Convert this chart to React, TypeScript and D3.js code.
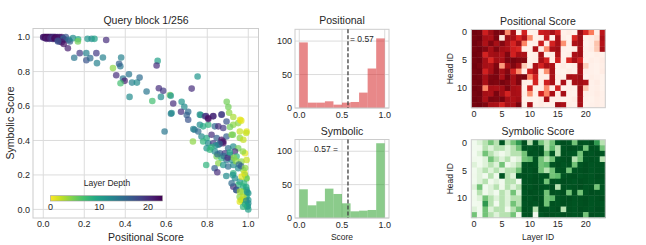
import { useEffect, useRef } from 'react';
import * as d3 from 'd3';

// scatter: one point per attention head (positional score, symbolic score, layer)
const scatterPos = [
  0.00, 0.005, 0.01, 0.01, 0.015, 0.02, 0.02, 0.025, 0.03, 0.03, 0.035, 0.04, 0.04, 0.045, 0.05, 0.05, 0.055, 0.06, 0.06, 0.065,
  0.07, 0.075, 0.08, 0.085, 0.09, 0.095, 0.10, 0.105, 0.11, 0.00, 0.01, 0.015, 0.025, 0.035, 0.045, 0.055, 0.065, 0.07, 0.08, 0.09,
  0.10, 0.12, 0.125, 0.13, 0.072, 0.145, 0.17, 0.169, 0.216, 0.236, 0.25, 0.307,
  0.151, 0.178, 0.21, 0.21, 0.229, 0.259, 0.262, 0.291, 0.34, 0.356, 0.376, 0.37, 0.38, 0.389, 0.397, 0.377, 0.418, 0.433, 0.457, 0.47,
  0.421, 0.558, 0.553, 0.504, 0.564, 0.585, 0.532, 0.574, 0.618, 0.622, 0.634, 0.623, 0.675, 0.688, 0.672, 0.707, 0.70, 0.724, 0.753, 0.768,
  0.794, 0.829, 0.87, 0.895, 0.903, 0.907, 0.927, 0.592, 0.73, 0.738, 0.707, 0.732,
  0.764, 0.789, 0.805, 0.829, 0.87, 0.894, 0.927, 0.951, 0.764, 0.78, 0.805, 0.837, 0.854, 0.878, 0.911, 0.959, 0.992, 0.756, 0.772, 0.797,
  0.821, 0.846, 0.87, 0.894, 0.919, 0.959, 0.976, 0.78, 0.805, 0.829, 0.854, 0.878, 0.902, 0.927, 0.951, 0.797, 0.813, 0.837, 0.862, 0.886,
  0.911, 0.935, 0.984, 0.846, 0.87, 0.894, 0.919, 0.943, 0.967, 0.992, 0.854, 0.878, 0.902, 0.927, 0.951, 0.976, 0.984, 0.992, 0.927, 0.935,
  0.959, 0.951, 0.976, 0.992, 1.0, 0.992, 1.0, 1.0, 0.995, 1.0, 0.972, 0.976, 0.959, 0.943, 0.927,
  0.795, 0.836, 0.849, 0.893, 0.925, 0.941, 0.958, 0.966, 0.99, 0.974, 0.99, 0.966, 0.925, 0.982, 0.96, 0.919, 0.976, 0.96,
  0.626, 0.805, 0.878, 0.87, 0.86, 0.84, 0.82, 0.85, 0.88, 0.90, 0.91, 0.93, 0.94, 0.955, 0.965, 0.968, 0.985, 0.98, 0.99, 0.995,
  0.99, 0.998, 0.985, 0.975,
];
const scatterSym = [
  1.0, 1.0, 1.0, 0.995, 1.0, 1.0, 0.995, 1.0, 1.0, 0.99, 1.0, 1.0, 0.995, 1.0, 1.0, 0.99, 1.0, 0.995, 1.0, 0.99,
  1.0, 0.985, 1.0, 0.99, 1.0, 0.995, 0.99, 0.985, 1.0, 0.998, 0.998, 0.99, 0.995, 0.993, 0.99, 0.993, 0.998, 0.98, 0.975, 0.97,
  0.96, 0.935, 0.985, 0.975, 0.975, 0.994, 0.988, 0.975, 0.99, 0.99, 0.99, 0.983,
  0.88, 0.907, 0.907, 0.866, 0.878, 0.907, 0.849, 0.882, 0.82, 0.779, 0.831, 0.845, 0.882, 0.759, 0.746, 0.732, 0.784, 0.736, 0.736, 0.765,
  0.653, 0.862, 0.835, 0.684, 0.703, 0.688, 0.629, 0.653, 0.664, 0.66, 0.615, 0.555, 0.625, 0.596, 0.567, 0.567, 0.548, 0.701, 0.771, 0.548,
  0.542, 0.542, 0.551, 0.625, 0.594, 0.561, 0.536, 0.452, 0.394, 0.462, 0.52, 0.466,
  0.55, 0.54, 0.53, 0.54, 0.55, 0.51, 0.491, 0.501, 0.491, 0.482, 0.491, 0.482, 0.482, 0.472, 0.478, 0.452, 0.452, 0.452, 0.423, 0.414,
  0.433, 0.414, 0.404, 0.423, 0.433, 0.414, 0.404, 0.394, 0.384, 0.384, 0.375, 0.384, 0.355, 0.365, 0.355, 0.355, 0.346, 0.336, 0.326, 0.326,
  0.317, 0.336, 0.326, 0.307, 0.297, 0.287, 0.287, 0.307, 0.278, 0.287, 0.268, 0.258, 0.249, 0.258, 0.239, 0.229, 0.20, 0.181, 0.21, 0.181,
  0.161, 0.142, 0.132, 0.113, 0.093, 0.074, 0.054, 0.035, 0.016, 0.0, 0.103, 0.054, 0.045, 0.113, 0.132,
  0.258, 0.239, 0.216, 0.194, 0.20, 0.112, 0.073, 0.054, 0.18, 0.336, 0.443, 0.515, 0.433, 0.21, 0.52, 0.151, 0.073, 0.103,
  0.559, 0.524, 0.394, 0.39, 0.38, 0.37, 0.36, 0.32, 0.31, 0.30, 0.33, 0.30, 0.28, 0.26, 0.25, 0.19, 0.24, 0.15, 0.13, 0.10,
  0.05, 0.02, 0.03, 0.015,
];
const scatterLayer = [
  22, 23, 21, 20, 22, 23, 19, 21, 22, 20, 23, 18, 21, 22, 20, 23, 19, 21, 22, 17,
  20, 18, 21, 16, 22, 19, 15, 20, 17, 20, 23, 21, 22, 20, 19, 23, 22, 19, 20, 21,
  22, 21, 14, 16, 17, 12, 9, 5, 11, 12, 10, 20,
  14, 19, 13, 17, 15, 19, 13, 13, 4, 20, 14, 16, 13, 14, 21, 7, 14, 13, 12, 15,
  12, 10, 20, 14, 20, 19, 7, 12, 5, 11, 20, 14, 11, 12, 20, 15, 16, 20, 11, 8,
  20, 21, 18, 5, 5, 4, 3, 14, 4, 14, 17, 13,
  12, 19, 22, 20, 19, 17, 4, 4, 12, 9, 8, 15, 20, 19, 5, 2, 1, 15, 12, 9,
  20, 16, 22, 16, 4, 4, 2, 8, 12, 19, 12, 22, 15, 12, 5, 11, 8, 12, 16, 19,
  15, 20, 1, 5, 8, 15, 12, 8, 4, 2, 4, 11, 15, 12, 12, 4, 8, 5, 8, 12,
  11, 8, 9, 12, 11, 9, 11, 12, 9, 10, 5, 2, 1, 15, 20,
  8, 16, 20, 12, 11, 17, 4, 2, 5, 4, 2, 1, 5, 1, 1, 15, 2, 3,
  12, 22, 22, 21, 16, 12, 8, 15, 15, 20, 9, 4, 4, 15, 16, 1, 4, 8, 9, 11,
  12, 11, 10, 8,
];
const layerTicks = [0, 10, 20];
const maxLayer = 23;

// histograms (10 bins over [0, 1])
const binEdges = [0, 0.1, 0.2, 0.3, 0.4, 0.5, 0.6, 0.7, 0.8, 0.9, 1.0];
const positionalCounts = [98, 8, 8, 10, 5, 8, 9, 23, 59, 104];
const symbolicCounts = [43, 19, 25, 44, 36, 22, 10, 11, 12, 112];
const meanScore = 0.57;
const histYTicks = [0, 50, 100];
const histXTicks = [0, 0.5, 1.0];

// heatmaps: rows = head 0..13, columns = layer 0..23
const positionalGrid = [
  [0.98, 0.97, 0.74, 0.88, 0.96, 0.95, 0.40, 0.87, 0.04, 0.73, 0.02, 0.03, 0.75, 0.78, 0.86, 0.72, 0.03, 0.05, 0.02, 0.90, 0.70, 0.45, 0.04, 0.80],
  [0.97, 0.98, 0.86, 0.85, 0.96, 0.08, 0.88, 0.86, 0.70, 0.84, 0.40, 0.03, 0.05, 0.78, 0.03, 0.86, 0.04, 0.02, 0.70, 0.88, 0.03, 0.05, 0.10, 0.85],
  [0.98, 0.96, 0.84, 0.95, 0.86, 0.94, 0.85, 0.72, 0.88, 0.42, 0.03, 0.04, 0.75, 0.05, 0.72, 0.86, 0.38, 0.03, 0.84, 0.88, 0.02, 0.04, 0.22, 0.82],
  [0.97, 0.98, 0.94, 0.86, 0.95, 0.87, 0.85, 0.74, 0.70, 0.04, 0.03, 0.84, 0.05, 0.40, 0.85, 0.88, 0.03, 0.02, 0.04, 0.87, 0.03, 0.05, 0.20, 0.86],
  [0.98, 0.97, 0.72, 0.86, 0.88, 0.84, 0.95, 0.73, 0.86, 0.85, 0.03, 0.04, 0.86, 0.03, 0.05, 0.84, 0.02, 0.04, 0.85, 0.88, 0.03, 0.02, 0.04, 0.03],
  [0.97, 0.98, 0.86, 0.70, 0.87, 0.85, 0.96, 0.97, 0.95, 0.94, 0.03, 0.05, 0.85, 0.72, 0.04, 0.74, 0.03, 0.70, 0.86, 0.73, 0.02, 0.04, 0.03, 0.05],
  [0.98, 0.96, 0.86, 0.85, 0.95, 0.35, 0.86, 0.95, 0.87, 0.20, 0.04, 0.85, 0.72, 0.86, 0.84, 0.03, 0.05, 0.02, 0.04, 0.87, 0.18, 0.03, 0.02, 0.04],
  [0.97, 0.98, 0.73, 0.86, 0.96, 0.87, 0.94, 0.72, 0.40, 0.03, 0.74, 0.85, 0.04, 0.38, 0.86, 0.03, 0.02, 0.05, 0.03, 0.86, 0.04, 0.03, 0.02, 0.05],
  [0.98, 0.97, 0.86, 0.95, 0.96, 0.85, 0.97, 0.86, 0.95, 0.96, 0.42, 0.73, 0.04, 0.03, 0.85, 0.05, 0.03, 0.86, 0.84, 0.88, 0.02, 0.04, 0.03, 0.02],
  [0.97, 0.98, 0.85, 0.96, 0.95, 0.97, 0.94, 0.86, 0.95, 0.04, 0.03, 0.72, 0.05, 0.74, 0.86, 0.03, 0.85, 0.04, 0.86, 0.87, 0.84, 0.03, 0.05, 0.02],
  [0.98, 0.97, 0.42, 0.86, 0.85, 0.87, 0.96, 0.86, 0.84, 0.03, 0.72, 0.04, 0.05, 0.40, 0.03, 0.73, 0.02, 0.04, 0.03, 0.88, 0.20, 0.03, 0.04, 0.02],
  [0.97, 0.98, 0.86, 0.85, 0.96, 0.87, 0.72, 0.86, 0.85, 0.05, 0.38, 0.03, 0.73, 0.42, 0.85, 0.04, 0.86, 0.03, 0.02, 0.87, 0.04, 0.03, 0.05, 0.03],
  [0.98, 0.97, 0.85, 0.96, 0.95, 0.97, 0.86, 0.84, 0.87, 0.03, 0.04, 0.02, 0.05, 0.86, 0.03, 0.04, 0.02, 0.03, 0.05, 0.86, 0.03, 0.02, 0.04, 0.03],
  [0.97, 0.98, 0.95, 0.86, 0.85, 0.72, 0.86, 0.85, 0.96, 0.04, 0.86, 0.03, 0.05, 0.02, 0.03, 0.88, 0.85, 0.04, 0.03, 0.86, 0.02, 0.03, 0.04, 0.03],
];
const symbolicGrid = [
  [0.04, 0.15, 0.30, 0.50, 0.30, 0.95, 0.30, 0.50, 0.70, 0.96, 0.30, 0.95, 0.50, 0.30, 0.50, 0.94, 0.97, 0.95, 0.50, 0.96, 0.95, 0.97, 0.70, 0.30],
  [0.04, 0.05, 0.30, 0.15, 0.30, 0.30, 0.15, 0.30, 0.50, 0.95, 0.94, 0.96, 0.95, 0.30, 0.55, 0.30, 0.95, 0.97, 0.96, 0.95, 0.50, 0.96, 0.95, 0.50],
  [0.03, 0.15, 0.50, 0.30, 0.15, 0.05, 0.15, 0.30, 0.30, 0.50, 0.96, 0.95, 0.97, 0.50, 0.95, 0.30, 0.96, 0.95, 0.94, 0.50, 0.96, 0.95, 0.97, 0.95],
  [0.05, 0.04, 0.15, 0.50, 0.30, 0.15, 0.30, 0.05, 0.15, 0.50, 0.55, 0.95, 0.50, 0.30, 0.50, 0.95, 0.96, 0.97, 0.30, 0.50, 0.95, 0.96, 0.95, 0.30],
  [0.15, 0.04, 0.15, 0.30, 0.15, 0.50, 0.05, 0.15, 0.30, 0.95, 0.96, 0.95, 0.50, 0.55, 0.95, 0.97, 0.95, 0.96, 0.50, 0.95, 0.97, 0.95, 0.96, 0.95],
  [0.04, 0.15, 0.30, 0.15, 0.30, 0.15, 0.30, 0.30, 0.50, 0.96, 0.95, 0.97, 0.50, 0.30, 0.50, 0.95, 0.96, 0.50, 0.95, 0.96, 0.97, 0.95, 0.96, 0.95],
  [0.05, 0.15, 0.04, 0.30, 0.05, 0.95, 0.30, 0.15, 0.95, 0.96, 0.95, 0.97, 0.95, 0.96, 0.50, 0.55, 0.95, 0.96, 0.97, 0.95, 0.96, 0.95, 0.97, 0.96],
  [0.04, 0.15, 0.30, 0.05, 0.15, 0.04, 0.30, 0.30, 0.05, 0.95, 0.96, 0.97, 0.95, 0.50, 0.96, 0.95, 0.97, 0.96, 0.95, 0.97, 0.96, 0.95, 0.96, 0.95],
  [0.15, 0.50, 0.04, 0.15, 0.30, 0.05, 0.30, 0.15, 0.30, 0.96, 0.95, 0.97, 0.96, 0.95, 0.97, 0.30, 0.96, 0.95, 0.96, 0.97, 0.95, 0.96, 0.50, 0.95],
  [0.04, 0.30, 0.05, 0.15, 0.04, 0.30, 0.15, 0.50, 0.15, 0.95, 0.97, 0.96, 0.95, 0.50, 0.96, 0.95, 0.97, 0.50, 0.96, 0.50, 0.95, 0.97, 0.96, 0.95],
  [0.05, 0.15, 0.50, 0.30, 0.15, 0.30, 0.15, 0.30, 0.30, 0.96, 0.95, 0.97, 0.96, 0.50, 0.55, 0.95, 0.96, 0.97, 0.95, 0.96, 0.97, 0.95, 0.96, 0.97],
  [0.04, 0.05, 0.70, 0.30, 0.04, 0.30, 0.15, 0.50, 0.30, 0.95, 0.96, 0.95, 0.97, 0.50, 0.96, 0.95, 0.97, 0.96, 0.95, 0.96, 0.97, 0.95, 0.96, 0.95],
  [0.15, 0.04, 0.50, 0.15, 0.30, 0.30, 0.05, 0.30, 0.50, 0.96, 0.95, 0.30, 0.97, 0.96, 0.95, 0.97, 0.30, 0.96, 0.95, 0.97, 0.96, 0.95, 0.97, 0.96],
  [0.50, 0.04, 0.50, 0.30, 0.15, 0.30, 0.30, 0.50, 0.05, 0.95, 0.96, 0.05, 0.95, 0.97, 0.96, 0.95, 0.97, 0.96, 0.95, 0.96, 0.50, 0.97, 0.96, 0.95],
];
const headTicks = [0, 5, 10];
const layerIdTicks = [0, 5, 10, 15, 20];

const FONT = '"Liberation Sans", Arial, sans-serif';
const TEXT = '#262626';
const GRID = '#dcdcdc';
const EDGE = '#cccccc';

export default function App() {
  const ref = useRef<SVGSVGElement>(null);

  useEffect(() => {
    if (!ref.current) return;
    document.body.style.margin = '0';
    const svg = d3.select(ref.current);
    svg.selectAll('*').remove();
    svg.style('font-family', FONT);

    const label = (g: any, x: number, y: number, s: string, size: number, anchor = 'middle') =>
      g.append('text').attr('x', x).attr('y', y).attr('text-anchor', anchor)
        .attr('font-size', size).attr('fill', TEXT).text(s);

    // ---------- scatter ----------
    const sx = d3.scaleLinear().domain([-0.05, 1.05]).range([33, 258.5]);
    const sy = d3.scaleLinear().domain([-0.05, 1.05]).range([218, 28.5]);
    const sTicks = [0, 0.2, 0.4, 0.6, 0.8, 1.0];
    const sc = svg.append('g');
    sc.selectAll('.gx').data(sTicks).join('line')
      .attr('x1', d => sx(d)).attr('x2', d => sx(d)).attr('y1', 28.5).attr('y2', 218)
      .attr('stroke', GRID).attr('stroke-width', 1);
    sc.selectAll('.gy').data(sTicks).join('line')
      .attr('y1', d => sy(d)).attr('y2', d => sy(d)).attr('x1', 33).attr('x2', 258.5)
      .attr('stroke', GRID).attr('stroke-width', 1);
    sc.append('rect').attr('x', 33).attr('y', 28.5).attr('width', 225.5).attr('height', 189.5)
      .attr('fill', 'none').attr('stroke', EDGE);
    const layerColor = (l: number) => d3.interpolateViridis(1 - l / maxLayer);
    sc.append('g').selectAll('circle').data(scatterPos.map((p, i) => i)).join('circle')
      .attr('cx', i => sx(scatterPos[i])).attr('cy', i => sy(scatterSym[i])).attr('r', 3.3)
      .attr('fill', i => layerColor(scatterLayer[i])).attr('fill-opacity', 0.7);
    sTicks.forEach(t => {
      label(sc, sx(t), 227, t.toFixed(1), 9);
      label(sc, 30, sy(t) + 3.2, t.toFixed(1), 9, 'end');
    });
    label(sc, 146, 24, 'Query block 1/256', 10.5);
    label(sc, 146, 241, 'Positional Score', 10.5);
    sc.append('text').attr('transform', 'translate(13.5,123) rotate(-90)').attr('text-anchor', 'middle')
      .attr('font-size', 10.5).attr('fill', TEXT).text('Symbolic Score');

    // colorbar
    const cx = d3.scaleLinear().domain([0, maxLayer]).range([50.5, 162.5]);
    const grad = svg.append('defs').append('linearGradient').attr('id', 'vir');
    d3.range(0, 1.001, 0.1).forEach(t => {
      grad.append('stop').attr('offset', `${t * 100}%`).attr('stop-color', d3.interpolateViridis(1 - t));
    });
    sc.append('rect').attr('x', cx(0)).attr('y', 195.7).attr('width', cx(maxLayer) - cx(0)).attr('height', 5.3)
      .attr('fill', 'url(#vir)').attr('stroke', '#9a9a9a').attr('stroke-width', 0.6);
    label(sc, 107, 186, 'Layer Depth', 8.5);
    layerTicks.forEach(t => label(sc, cx(t), 210, String(t), 9));

    // ---------- histograms ----------
    const drawHist = (top: number, bottom: number, counts: number[], color: string, title: string,
      meanText: string, textRight: boolean, textY: number, xLabel: boolean) => {
      const g = svg.append('g');
      const hx = d3.scaleLinear().domain([-0.05, 1.05]).range([295, 389]);
      const hy = d3.scaleLinear().domain([0, 117.6]).range([bottom, top]);
      g.selectAll('.vx').data(histXTicks).join('line')
        .attr('x1', d => hx(d)).attr('x2', d => hx(d)).attr('y1', top).attr('y2', bottom)
        .attr('stroke', GRID);
      g.selectAll('.hy').data(histYTicks).join('line')
        .attr('y1', d => hy(d)).attr('y2', d => hy(d)).attr('x1', 295).attr('x2', 389)
        .attr('stroke', GRID);
      g.selectAll('.bar').data(counts).join('rect')
        .attr('x', (d, i) => hx(binEdges[i])).attr('width', (d, i) => hx(binEdges[i + 1]) - hx(binEdges[i]))
        .attr('y', d => hy(d)).attr('height', d => bottom - hy(d))
        .attr('fill', color).attr('fill-opacity', 0.55);
      g.append('rect').attr('x', 295).attr('y', top).attr('width', 94).attr('height', bottom - top)
        .attr('fill', 'none').attr('stroke', EDGE);
      g.append('line').attr('x1', hx(meanScore)).attr('x2', hx(meanScore)).attr('y1', top).attr('y2', bottom)
        .attr('stroke', '#404040').attr('stroke-width', 1.3).attr('stroke-dasharray', '4,2');
      if (textRight) label(g, hx(meanScore) + 2, textY, meanText, 8.5, 'start');
      else label(g, hx(meanScore) - 10, textY, meanText, 8.5, 'end');
      histYTicks.forEach(t => label(g, 292, hy(t) + 3.2, String(t), 9, 'end'));
      histXTicks.forEach(t => label(g, hx(t), bottom + 9.5, t.toFixed(1), 9));
      label(g, 342, top - 5, title, 10.5);
      if (xLabel) label(g, 342, 240, 'Score', 8.5);
    };
    drawHist(29.3, 108, positionalCounts, '#d62728', 'Positional', `= ${meanScore}`, true, 42, false);
    drawHist(139.5, 218, symbolicCounts, '#2ca02c', 'Symbolic', `${meanScore} =`, false, 152, true);

    // ---------- heatmaps ----------
    const drawHeat = (top: number, bottom: number, grid: number[][], interp: (t: number) => string,
      title: string, xLabel: boolean) => {
      const g = svg.append('g');
      const bx = d3.scaleBand<number>().domain(d3.range(24)).range([471.3, 605.3]);
      const by = d3.scaleBand<number>().domain(d3.range(14)).range([top, bottom]);
      const cells = grid.flatMap((row, h) => row.map((v, l) => ({ h, l, v })));
      g.selectAll('rect.cell').data(cells).join('rect').attr('class', 'cell')
        .attr('x', d => bx(d.l)!).attr('y', d => by(d.h)!)
        .attr('width', bx.bandwidth() + 0.4).attr('height', by.bandwidth() + 0.4)
        .attr('fill', d => interp(d.v));
      g.append('rect').attr('x', 471.3).attr('y', top).attr('width', 134).attr('height', bottom - top)
        .attr('fill', 'none').attr('stroke', EDGE);
      headTicks.forEach(t => label(g, 467, by(t)! + by.bandwidth() / 2 + 3.2, String(t), 9, 'end'));
      layerIdTicks.forEach(t => label(g, bx(t)! + bx.bandwidth() / 2, bottom + 9.5, String(t), 9));
      label(g, 538, top - 5, title, 10.5);
      g.append('text').attr('transform', `translate(453,${(top + bottom) / 2}) rotate(-90)`)
        .attr('text-anchor', 'middle').attr('font-size', 8.5).attr('fill', TEXT).text('Head ID');
      if (xLabel) label(g, 538, 240, 'Layer ID', 8.5);
    };
    drawHeat(29.5, 107.7, positionalGrid, d3.interpolateReds, 'Positional Score', false);
    drawHeat(139.7, 217.7, symbolicGrid, d3.interpolateGreens, 'Symbolic Score', true);
  }, []);

  return <svg ref={ref} width={646} height={245} style={{ display: 'block', background: '#fff' }} />;
}
